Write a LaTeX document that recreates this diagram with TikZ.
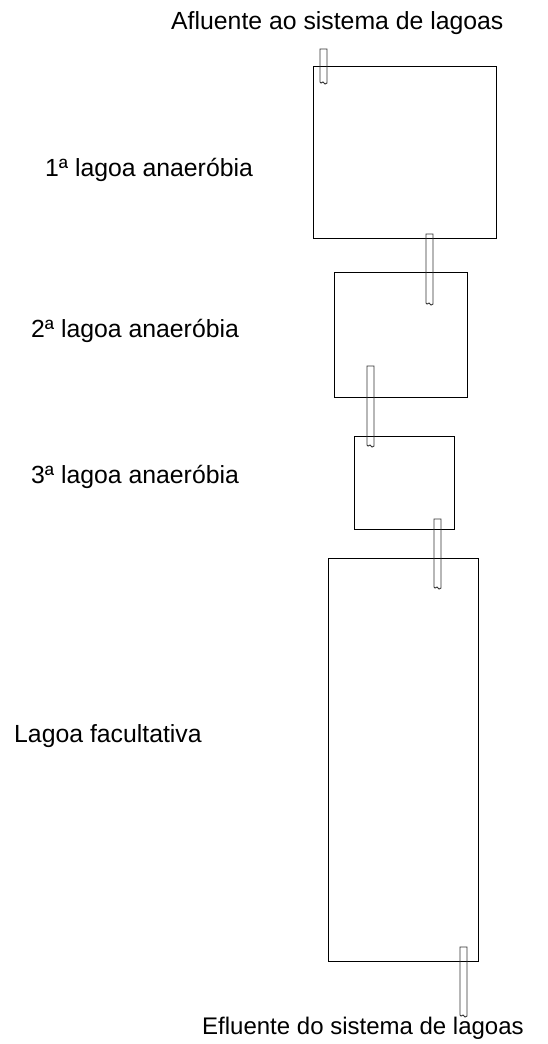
\documentclass[tikz,border=0pt]{standalone}
\usepackage{fontspec}
\setmainfont{Liberation Sans}
\newcommand\lpipe[3]{%
  \draw[pipeline] (#1,#3) -- (#1,#2) -- (#1+7,#2) -- (#1+7,#3+1) -- (#1+5,#3+2) -- (#1+3,#3) -- (#1+1,#3+1) -- cycle;}
\begin{document}
\begin{tikzpicture}[x=1pt,y=-1pt,
  lagoon/.style={draw=black, line width=0.9pt, minimum width=#1, inner sep=0pt, outer sep=0pt},
  pipeline/.style={draw=black!80, line width=0.9pt},
  lbl/.style={font=\fontsize{24.8}{28}\selectfont, anchor=base west, inner sep=0pt}]
\useasboundingbox (0,0) rectangle (548,1044);
\node[lagoon=183pt, minimum height=172pt] (L1) at (404.5,152) {};
\node[lagoon=133pt, minimum height=125pt] (L2) at (400.5,334.5) {};
\node[lagoon=100pt, minimum height=93pt] (L3) at (404,482.5) {};
\node[lagoon=150pt, minimum height=403pt] (L4) at (403,759.5) {};
\lpipe{320}{49}{82}
\lpipe{426}{234}{303}
\lpipe{367}{366}{445}
\lpipe{434}{519}{587}
\lpipe{460}{947}{1015}
\node[lbl] (tin) at (171,29) {Afluente ao sistema de lagoas};
\node[lbl] (t1) at (45,176) {1ª lagoa anaeróbia};
\node[lbl] (t2) at (31,337) {2ª lagoa anaeróbia};
\node[lbl] (t3) at (31,483) {3ª lagoa anaeróbia};
\node[lbl] (t4) at (14,742) {Lagoa facultativa};
\node[lbl, font=\fontsize{24}{28}\selectfont] (tout) at (202,1034) {Efluente do sistema de lagoas};
\end{tikzpicture}
\end{document}
